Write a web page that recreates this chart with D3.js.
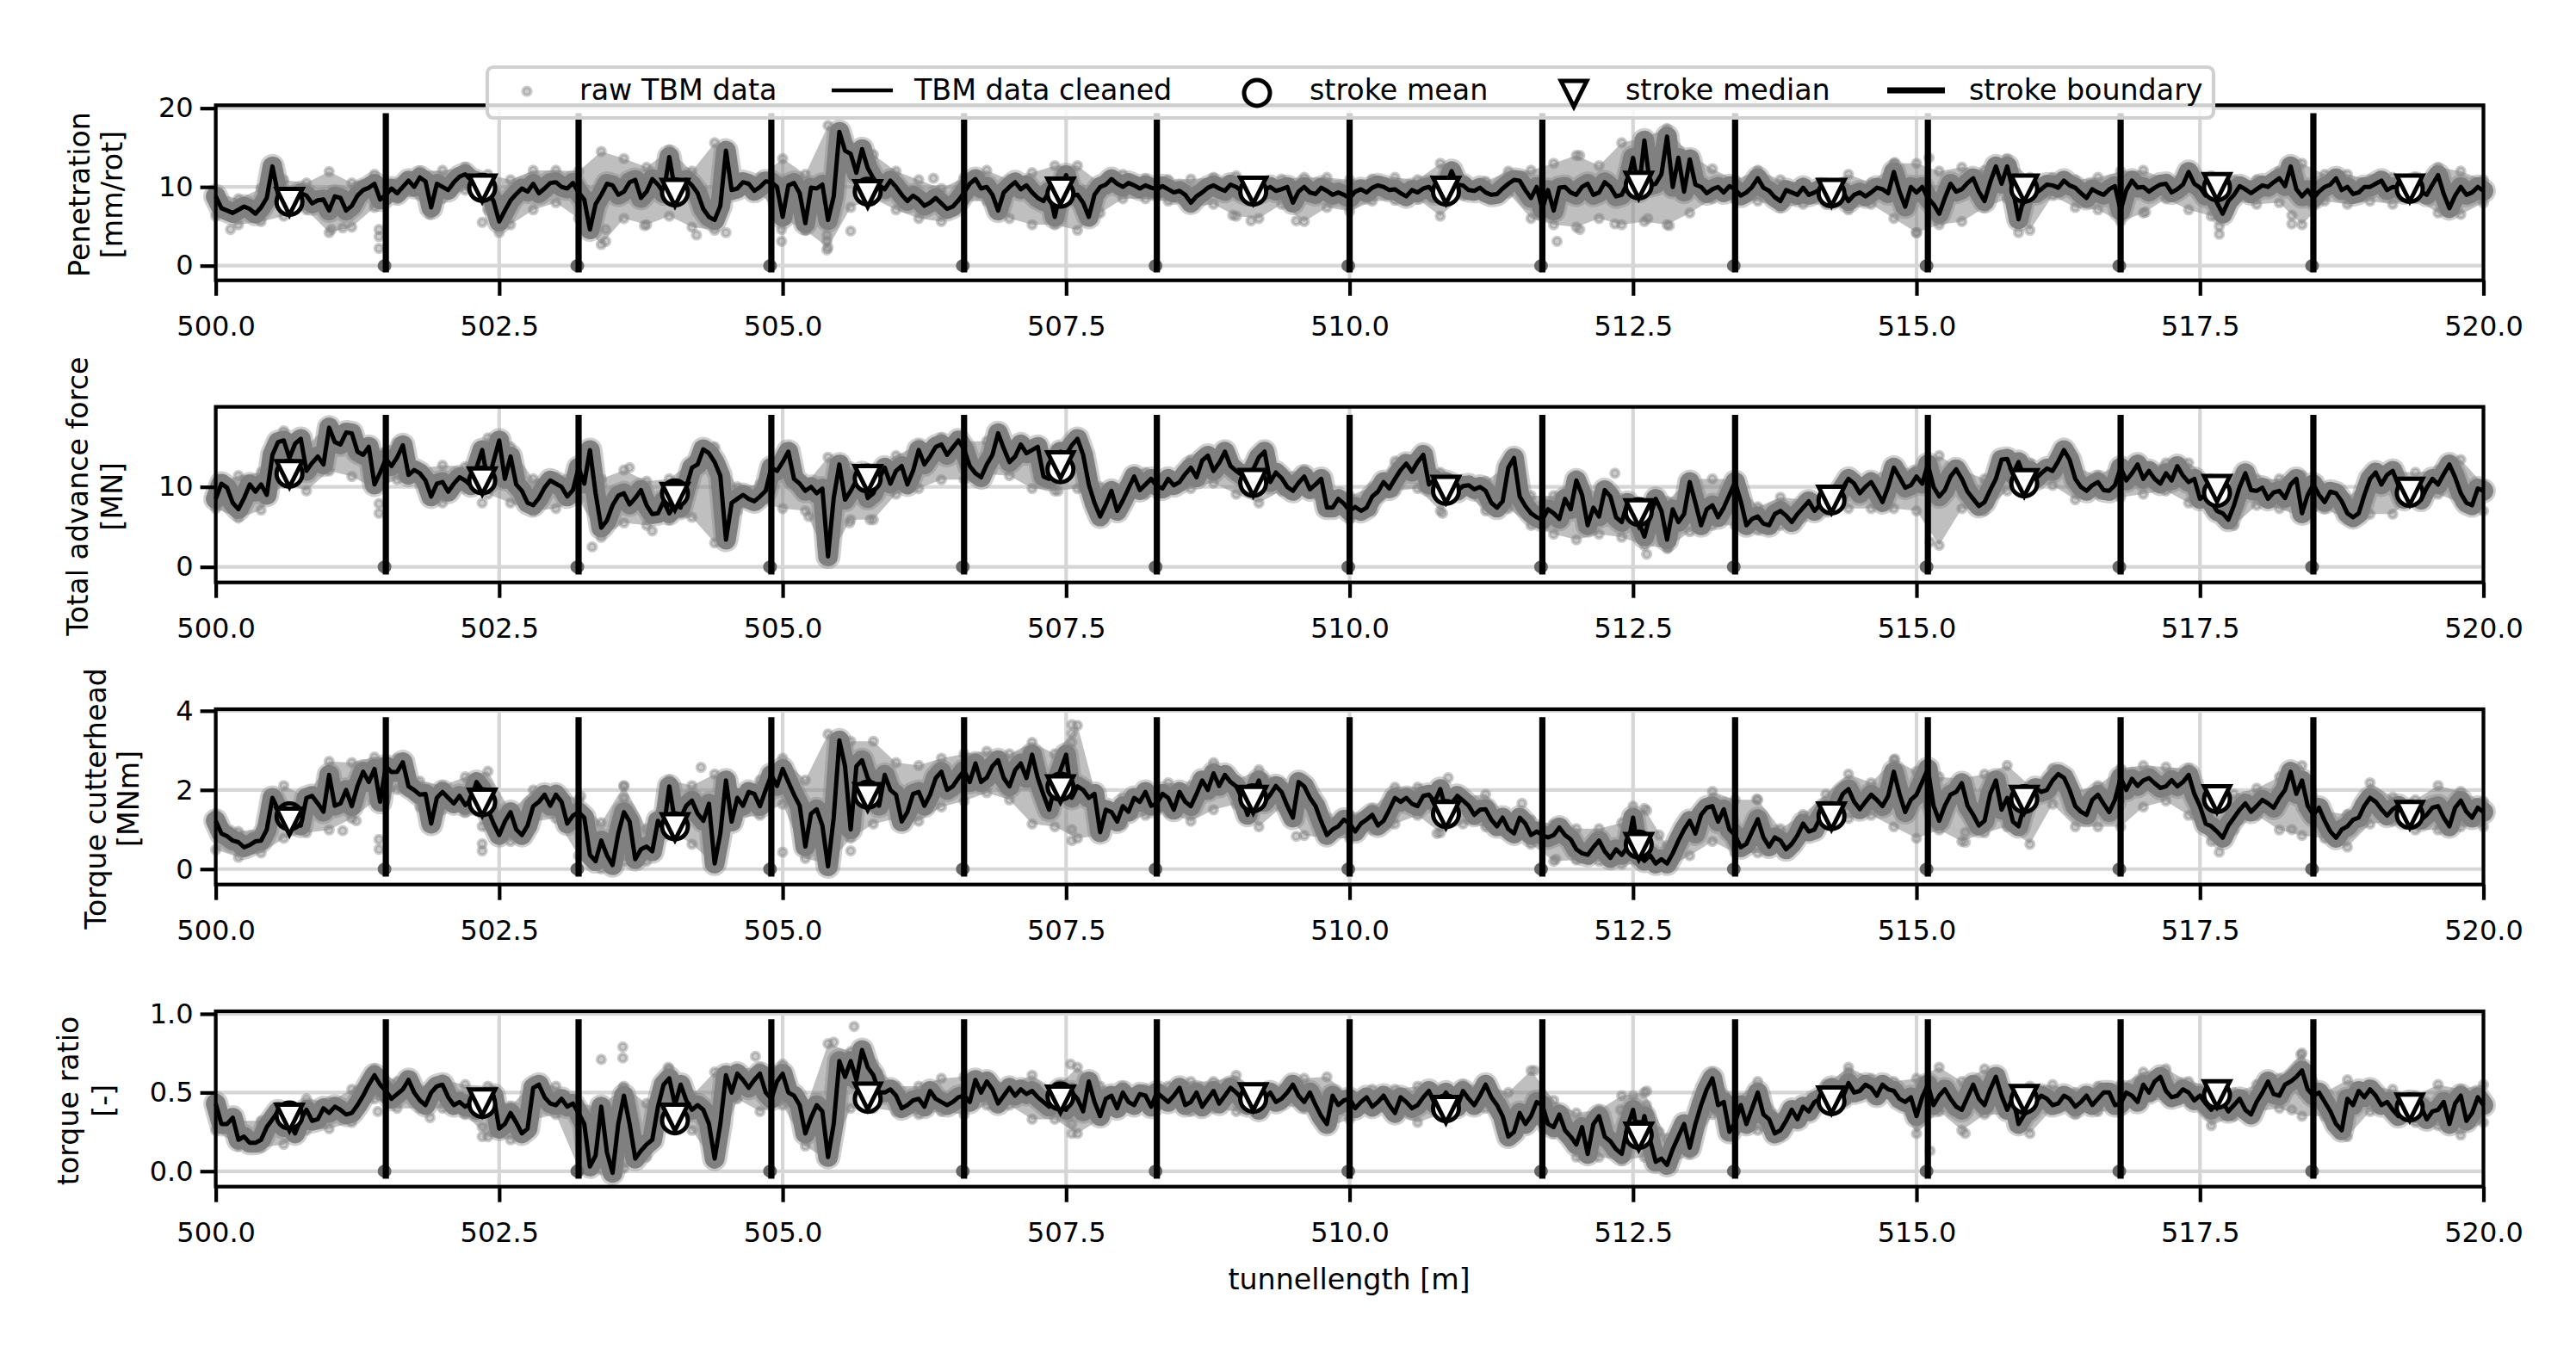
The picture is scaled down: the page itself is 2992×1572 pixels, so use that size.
<!DOCTYPE html>
<html><head><meta charset="utf-8">
<script src="https://cdn.jsdelivr.net/npm/d3@7"></script>
<style>html,body{margin:0;padding:0;background:#fff}svg{display:block}text{font-family:"DejaVu Sans";fill:#000}</style>
</head><body><svg id="c" width="2992" height="1572"></svg>
<script>
const xTicks=[500,502.5,505,507.5,510,512.5,515,517.5,520];
const strokeBoundaries=[501.5,503.2,504.9,506.6,508.3,510,511.7,513.4,515.1,516.8,518.5];
const strokeCentres=[500.65,502.35,504.05,505.75,507.45,509.15,510.85,512.55,514.25,515.95,517.65,519.35];
const legendLabels=["raw TBM data","TBM data cleaned","stroke mean","stroke median","stroke boundary"];

// cleaned series: readings every 0.1 m (…Clean) and the readings half-way between them (…Mid)
const penClean=[8.8,7.0,7.1,7.2,7.4,12.6,8.7,8.6,8.9,8.3,
7.0,8.6,7.6,9.6,10.4,9.0,9.2,10.8,11.2,7.4,
10.0,10.6,11.6,10.7,9.4,5.6,8.3,9.8,10.4,9.8,
10.6,9.8,9.3,4.6,9.0,10.2,9.4,10.9,9.4,10.3,
13.8,10.0,10.2,7.2,5.8,14.6,9.8,10.4,10.0,10.6,
6.2,10.5,5.4,9.8,5.8,17.0,14.2,14.8,11.1,9.7,
10.0,8.2,8.4,8.0,7.9,7.5,9.3,11.0,10.0,7.0,
10.0,9.7,9.3,8.2,6.2,11.5,9.0,6.2,10.0,11.0,
10.0,10.2,10.2,9.7,9.7,9.5,8.0,9.3,10.2,9.5,
10.0,9.1,9.3,10.0,9.7,8.0,10.0,9.1,9.5,9.3,
8.6,9.7,9.9,10.0,9.7,8.8,9.3,10.0,9.3,12.0,
10.2,9.5,9.3,9.1,10.4,10.8,8.6,7.2,7.0,10.0,
9.0,10.4,9.3,10.0,9.0,13.7,15.9,10.4,16.4,13.7,
13.5,10.0,9.7,9.3,9.7,9.3,11.1,9.5,8.2,9.3,
9.9,9.3,9.0,9.0,8.2,9.3,9.3,9.7,11.9,7.5,
9.3,8.6,6.6,10.4,9.7,11.1,8.2,12.6,12.6,5.9,
10.0,9.7,10.2,10.8,9.9,8.6,9.3,9.7,7.0,10.8,
10.0,9.9,10.4,9.7,11.9,9.9,9.3,6.6,9.0,9.7,
9.7,10.0,11.1,12.6,8.8,8.6,10.0,11.1,10.0,9.3,
10.0,10.8,10.0,9.3,10.4,9.0,11.5,7.3,10.0,9.3,9.5];
const penMid=[7.3,6.7,7.5,6.6,8.6,9.0,8.0,9.2,7.9,8.4,
8.8,7.0,8.9,9.9,8.4,9.8,10.0,10.0,10.7,10.4,
9.6,11.3,10.9,10.1,8.2,7.0,9.1,9.4,9.2,10.5,
10.0,10.5,8.4,7.8,10.4,9.0,10.6,8.6,11.0,9.2,
9.6,10.9,9.2,6.2,7.6,9.6,10.6,9.5,10.7,10.0,
10.2,9.2,9.9,10.3,8.8,14.6,11.8,12.4,10.2,10.8,
9.0,8.9,7.6,8.6,7.2,8.3,10.4,9.8,9.0,9.3,
10.6,10.2,8.6,9.4,9.5,8.9,8.0,9.0,10.3,10.4,
10.5,9.8,9.9,10.1,9.3,9.0,8.8,9.9,9.8,10.3,
9.4,9.8,9.6,9.5,10.0,9.4,9.3,9.9,9.0,9.0,
9.4,9.3,10.2,9.6,9.2,9.6,9.8,9.2,10.1,10.3,
9.6,9.9,9.0,9.8,10.9,9.6,10.0,9.6,9.9,9.3,
10.0,9.0,10.6,8.8,10.5,9.5,10.2,11.6,10.0,9.4,
10.3,9.2,10.0,10.1,8.9,10.0,9.9,8.7,9.6,9.0,
9.0,9.7,8.6,9.4,9.0,8.8,9.9,9.2,9.4,10.0,
10.0,7.8,8.6,9.4,10.5,9.4,10.6,10.4,9.6,8.8,
9.2,10.3,9.9,10.2,9.2,9.7,9.0,10.1,9.6,9.9,
9.4,10.3,9.3,10.3,10.4,8.9,8.0,8.2,10.1,9.2,
10.2,10.6,10.1,9.7,9.6,9.4,10.3,9.6,9.1,10.0,
10.4,9.6,9.9,10.1,9.4,10.3,9.1,8.9,9.0,10.0];
const penHigh=[9.2,8.5,9.8,10.9,10.5,11.95,10.5,11.6,10.5,12,12.1,12.5,11.6,10.9,12.1,12.1,12,14.5,13.6,12.5,14.7,12,15.6,11.2,11.2,13.6,11.6,17.8,15.2,
14.1,12,10.9,9.8,11.2,12.1,10.9,11.8,12.7,12.7,10.5,11.6,11,10.9,11,11.2,11.4,10.5,11,11.2,11.2,10.9,11,11.2,10.9,13,10.9,10.7,12,12.1,13,14,12.7,15.6,16.3,17.4,14.1,12.3,
10.9,12.1,10.9,10.5,10.5,11.6,10.5,13,13,12,12.5,12.1,13.6,11.2,11.2,10.9,11.2,12,12.1,11,12.1,11.4,10.9,10.9,12,13,11.6,11.6,10.9,11.2,11.2,12.5,12,10.9];
const penLow=[6.3,5.2,5.6,6.3,7.1,4.2,4.9,7.4,8.5,8.9,8.5,9.6,7.1,5.2,7.1,8,6,2.7,6,5.2,6.3,4.9,4.5,9.25,9.25,6,4.5,2.3,7.4,
8.5,7.1,6,5.6,8.2,8.2,6,5.2,5.2,4.5,6.7,8.5,8.5,8.2,7.4,7.8,6.3,6,7.8,5.6,7.4,6.9,8.2,8.3,8.5,6.3,8.9,9.1,9.25,6,5.2,4.9,6,5.2,5.6,5.2,6.7,8.5,
8.5,8.2,7.4,7.8,7.8,7.1,7.8,6,4.2,5.2,5.6,7.4,8.5,4.5,8.9,7.4,7.1,5.6,6.7,8.5,7.1,6.3,8.2,7.8,8,5.2,8.2,7.8,8.2,7.8,8.5,6.7,6.5,8];
const penOutX=[501.44,501.44,501.44,501.89,502.35,502.5,503.44,503.44,503.78,504.24,504.5,504.99,504.99,505.2,505.39,505.39,505.39,505.6,500.13,501.02,501.12,506.33,509.53,508.97,509.13,511.83,512.03,512.03,512.34,512.82,512.63,514.81,515.11,515,515.9,517.67,517.67,518.31,518.31,517.02];
const penOutY=[4.6,3.7,2.2,6.5,5.5,4.2,4.6,3.1,5.1,3.9,4.2,3.1,4.6,4.6,3.9,3.1,2,4.4,4.6,4.6,4.8,11.1,5.7,6.4,5.7,3.1,14,4.6,5.3,5.1,6,13.1,13.7,4.2,4.2,5,4,6.4,5.3,6.8];
const penMean=[8.1,9.87,9.3,9.4,9.14,9.4,9.4,10.2,9.2,9.76,9.95,9.76];
const penMedian=[8.1,9.8,9.25,9.1,9.43,9.54,9.54,10.16,9.25,9.8,9.98,9.8];

const forceClean=[8.5,9.9,7.2,10.3,10.3,14,15.8,15.4,12,13.8,
17.4,15.3,16.7,14,10.3,13.5,13.7,11.5,11.7,8.8,
10.6,10.4,10.8,12.4,10.6,15.8,13.8,9.5,7.7,9.9,
10.4,8.8,12.4,14.6,4.9,7.7,9.2,8.6,7.7,6.7,
6.7,7.4,12.4,14.7,13.1,3.4,8.5,8.5,8.8,12.4,
13.1,11,9.5,9.2,1.3,12.8,9.5,11.7,9.2,12.4,
12,10.3,14.6,13.8,15.3,14.9,14.7,11.7,12.8,16.7,
13.1,15.3,14.6,11.3,12.8,14,16,10.3,6.3,9.5,
8.3,11.3,10.3,10.1,11,10.6,12.4,13.3,12,14.4,
12,11,13.7,10.6,11.1,9.5,11.3,10.3,7.4,8.5,
7,7,8.8,10.6,11,12.9,13.1,10.3,9.9,10.3,
10.1,9.7,9.5,7.4,12.4,8.8,6.7,5.9,6.7,8.5,
10.8,5.2,6.3,8.8,5.6,6.7,3.8,8.5,3.4,5.6,
10.6,5.2,7.7,7.4,10.6,5.2,6.3,5.2,7,5.6,
7.4,7,7.7,8.8,11,9.2,10.6,8.1,12.4,9.9,
11.3,12.8,8.8,11.3,11,8.5,8.1,11,13.5,13.1,
12,11.7,12,14.6,11,9.5,10.6,9.5,12.4,11.7,
11,11,11.7,12.6,10.6,8.5,8.1,6.7,7.7,11.7,
9.5,8.5,9.5,10.3,6.7,10.3,8.1,9.2,6.7,6.7,
11,10.3,12,8.5,9.5,9.9,10.3,12.8,9.2,7.7,9.5];
const forceMid=[10.4,8.0,8.6,9.4,9.0,15.6,13.6,16,13.0,12.8,
15.6,16.8,14.4,15.0,11.8,12.6,15.2,12.1,10.8,10.4,
9.4,11.2,10.2,14.6,13.2,11.0,10.3,8.0,8.6,10.8,
10.0,9.6,10.4,9.2,5.8,8.9,7.8,9.6,6.6,8.2,
7.8,10.0,12.8,14.2,11.4,8.0,9.0,8.2,9.5,12.0,
14.4,10.4,10.0,9.8,8.6,8.4,10.8,8.6,11.0,10.4,
12.6,12.0,12.8,15.0,14.0,15.8,12.6,11.2,14.0,14.8,
13.8,14.2,15.0,11.0,14.4,15.2,14.0,8.0,7.8,7.0,
9.8,9.6,11.0,9.8,10.2,11.6,11.2,13.9,13.0,12.6,
11.5,12.2,14.4,11.8,10.0,10.5,9.7,11.0,7.4,7.9,
7.5,7.4,9.4,9.8,12.1,11.9,14.0,10.9,10.6,9.5,
10.2,10.0,8.0,8.2,13.6,7.6,6.2,7.2,6.0,7.2,
9.0,7.4,9.6,6.2,8.0,5.6,6.4,7.0,7.2,6.6,
8.0,7.2,6.2,9.0,8.2,6.0,5.4,6.6,6.4,6.6,
8.2,7.8,8.4,9.9,10.4,10.0,9.4,10.0,11.2,10.2,
10.4,10.0,9.6,12.2,9.4,7.6,9.6,13.4,11.6,11.2,
11.0,12.3,13.2,13.4,10.0,10.2,9.6,10.2,10.8,12.8,
12.0,10.4,10.8,11.4,11.0,9.0,7.0,5.9,10.0,9.6,
9.9,9.3,8.6,11.0,9.0,9.0,9.4,8.2,6.2,9.0,
11.8,11.5,10.2,9.8,8.4,11.0,11.6,11.2,8.0,9.8];
const forceHigh=[10.3,11.4,11.8,17,15,18,16.8,14.6,15.5,12.3,12.7,12.5,16.1,15,11,11.2,12.1,11,12.1,10.7,11,13.2,15,10,10.3,14.1,10.3,13.7,12.5,
12.3,13.9,15.3,16.1,15.7,15.7,15.3,15.3,14.6,16.1,10,10,11.8,11.2,13.4,13.5,12.1,14.3,11.8,12.1,10,8.9,10,13.2,13.9,11.8,10.7,10.7,12.8,8.9,8.9,11.4,8.9,8.5,7.8,8.2,11,
11,11,7.5,8.7,8.4,9.6,11.2,11.2,12.7,12.1,13.9,12.1,11,14.1,13,12.8,12.5,11.4,13,12.5,13,13,11,11,11,11,11.4,10,8.5,11.4,11.9,11.8,12.1,13.4,10.3];
const forceLow=[7.3,6.1,7.1,10.5,9.5,12,11.3,9.8,10.9,10.5,8,9.8,9.1,8,7,7.3,8.4,3.7,5.5,5.2,5.9,6.2,3,7,8,7.3,7,0.9,5.9,
5.9,9.1,9.8,10.9,10.9,11.6,11.4,9.8,9.5,9.8,5.9,7.7,9.1,9.5,9.8,10.5,9.1,8,9.5,9.5,7,5.9,7,9.5,9.8,7,9.5,7,7.3,5.2,4.1,3.4,4.1,3.7,2.7,2.3,4.4,
5.2,5.2,4.6,5.2,6.2,7,7.3,7.3,7.3,7,2.7,7.3,7,9.5,10.2,10.2,8.4,9.1,8.7,9.1,9.5,8,7,5.2,7.7,7.3,6.2,7.3,5.9,6.6,6.6,9.1,9.1,8,7];
const forceOutX=[501.44,501.44,502.35,503.32,503.85,503.65,505.42,505.23,505.59,512.34,512.62,512.81,510.82,505.77,507.43,515.12];
const forceOutY=[7.9,6.7,8,2.5,4.5,12.4,4.2,6.3,5.5,11.7,1.6,2.4,6.7,5.9,9.5,3.1];
const forceMean=[11.65,10.8,9.18,11.04,12.2,10.5,9.5,6.85,8.3,10.43,9.25,9.25];
const forceMedian=[11.6,10.7,8.75,11,12.7,10.5,9.64,6.7,8.4,10.47,9.75,9.4];

const torqueClean=[1.22,.83,.68,.61,.72,1.8,1.44,1.3,1.8,1.66,
2.38,1.66,1.59,2.46,2.53,2.6,2.46,2.09,1.88,1.15,
1.95,1.66,1.62,2.2,1.51,.86,1.44,.86,1.59,1.88,
1.88,1.15,1.44,.36,.72,.1,1.44,.25,.57,1.22,
2.09,1.3,1.73,1.22,.14,2.24,1.8,1.95,1.59,2.38,
2.53,1.88,.57,1.51,.07,3.25,1,2.75,2.09,2.38,
1.88,1.44,1.95,1.88,2.46,2.09,2.49,2.67,2.31,2.75,
2.09,2.67,2.89,1.88,2.09,2.89,2.09,1.8,.93,1.44,
1.59,1.8,1.95,1.66,1.8,1.95,1.59,2.24,2.42,2.38,
2.09,1.37,2.24,1.88,1.95,1.3,2.09,1.59,.86,1.08,
1.15,1.15,1.37,1.22,1.8,1.8,1.59,1.88,2.02,1.66,
1.73,1.37,1.51,1.08,1.01,1.3,.86,.86,.86,.86,
.5,.36,.72,.28,.36,1.3,.21,.14,.14,.72,
1.22,1.37,1.59,1.51,.86,.64,1.26,.57,.72,.64,
1.15,1,1.51,1.59,2.02,1.51,1.88,1.59,2.46,1.44,
1.88,2.53,1.22,1.88,2.17,1.37,1.22,2.24,1.8,1.08,
1.8,1.95,2.24,2.31,1.59,1.37,1.88,1.44,2.31,2.28,
2.24,2.17,2.09,2.09,2.38,1.59,1.08,.79,1.3,1.66,
1.59,1.66,1.8,2.46,2.24,1.37,1.22,.79,1.08,1.3,
1.8,1.51,1.51,1.3,1.44,1.37,1.59,1.08,1.73,1.3,1.44];
const torqueMid=[.9,.72,.55,.7,1.0,1.5,1.38,1.1,1.85,1.45,
1.6,2.0,2.1,2.2,1.7,2.45,2.7,2.0,1.9,1.8,
1.8,1.85,1.75,2.0,1.15,1.2,1.0,1.1,1.7,1.6,
1.7,1.35,1.3,.2,.35,.9,1.2,.5,.45,1.0,
1.2,1.6,1.4,1.65,.9,1.2,1.6,1.9,2.0,2.1,
2.2,1.6,1.4,1.1,1.3,2.6,2.6,2.3,1.6,2.0,
1.2,1.9,1.6,2.3,2.0,2.3,2.2,2.2,2.6,2.3,
2.5,2.3,2.3,1.5,2.5,1.8,2.0,1.9,1.5,1.2,
1.45,1.7,1.6,1.9,1.5,1.7,1.9,2.0,2.1,2.2,
1.8,1.9,1.7,2.1,1.6,2.2,1.8,1.2,1.0,1.25,
.95,1.25,1.1,1.5,1.7,1.65,1.85,1.7,1.5,1.85,
1.6,1.5,1.25,1.3,.9,1.15,.95,.8,1.05,.75,
.4,.55,.45,.5,.55,.35,.35,.25,.4,1.0,
.9,1.55,1.2,1.0,.55,.95,.8,.8,.5,.85,
.95,1.3,1.4,1.9,1.7,1.7,1.75,1.85,1.9,1.75,
2.2,1.6,1.6,1.95,1.6,1.1,1.9,1.5,1.2,1.6,
2.05,2.0,2.4,2.0,1.45,1.75,1.65,1.75,2.0,2.1,
2.3,2.05,2.25,2.2,1.9,1.15,.95,1.1,1.5,1.45,
1.75,1.55,2.0,1.9,1.6,1.55,.95,1.0,1.25,1.6,
1.7,1.35,1.6,1.5,1.25,1.55,1.3,1.55,1.45,1.55];
const torqueHigh=[1.38,.95,1.02,2.11,1.82,2.72,2.69,2.83,2.8,2.22,2.11,2.33,2.47,1.46,2,2,1.75,1.17,2.11,1.02,2.25,2.11,2.4,1.89,2.25,2.8,2.25,3.41,3.23,
3.23,2.69,2.62,2.8,2.91,2.98,2.91,3.2,2.91,3.63,1.46,1.82,2,2.18,2.11,2.69,2.25,2.51,2.18,2.25,1.31,1.38,1.53,2.07,2.07,2.07,1.82,1.89,1.31,1.24,1.13,1.02,1.02,1.17,1.53,.59,1.31,1.96,
1.75,1.75,1.02,1.38,1.89,2.4,2.18,2.76,2.47,2.33,2.29,2.4,2.62,2.11,2.54,1.96,2.11,2.54,2.62,2.58,2.54,1.82,1.89,2.04,2.33,2.62,1.46,1.38,2.18,1.82,1.75,2.11,1.96,1.71];
const torqueLow=[.49,.3,.41,.78,.92,.99,1.28,1.72,2.01,1.57,1.5,1.43,1.21,.7,1.21,1.28,.34,.01,.2,.2,.99,.63,.12,1.28,1.36,1.64,.27,.12,.78,
1.14,1.28,1.21,1.57,1.72,1.93,1.75,1.14,1.07,.78,.85,1.14,1.36,1.43,1.21,1.5,1.64,1.07,1.57,.85,.78,.78,.99,1.14,1.36,.92,1.14,1.07,.85,.63,.2,.23,.2,.12,.12,.05,.34,.7,
.41,.41,.56,.85,1.28,1.28,1.36,1.07,.78,.99,.7,.92,1.07,.63,1.64,1.07,1.07,1.07,1.57,1.72,1.36,.7,.99,1.36,.99,.85,.78,.56,1.14,1.21,.99,.99,1.07,1.07];
const torqueOutX=[501.44,501.44,502.35,502.35,502.35,504.28,503.6,503.6,503.22,501.24,501.12,505,505.2,505.6,507.55,507.55,507.55,507.55,507.55,509.53,510.87,510.77,512.5,512.62,511.82,512.73,511.52,514.81,515.43,515.43,517.67,518.31,513.59];
const torqueOutY=[.75,.5,1.08,.64,.46,2.57,2.09,1.8,1.84,1.22,.97,.43,.64,.46,3.65,3.43,3.2,1,.72,.83,2.31,.9,1.59,1.48,.25,.86,1.66,2.78,.68,.93,.43,1,1.77];
const torqueMean=[1.33,1.69,1.08,1.88,2.08,1.79,1.39,.62,1.34,1.77,1.77,1.37];
const torqueMedian=[1.2,1.68,1.06,1.82,2.02,1.75,1.37,.56,1.33,1.75,1.77,1.37];

const ratioClean=[.43,.3,.2,.18,.2,.33,.28,.24,.39,.33,
.37,.39,.37,.48,.61,.51,.49,.58,.45,.5,
.55,.42,.41,.39,.42,.27,.37,.24,.53,.47,
.42,.41,.37,.03,.41,-.01,.48,.08,.17,.41,
.59,.55,.39,.39,.08,.61,.62,.53,.62,.46,
.62,.48,.24,.42,.09,.7,.7,.77,.61,.5,
.48,.42,.46,.51,.44,.44,.48,.58,.57,.43,
.53,.52,.51,.44,.46,.39,.46,.57,.35,.48,
.5,.42,.48,.5,.44,.53,.44,.41,.51,.48,
.5,.42,.39,.5,.46,.55,.44,.42,.3,.42,
.46,.44,.41,.48,.37,.44,.42,.51,.44,.44,
.51,.42,.55,.42,.22,.37,.35,.42,.28,.26,
.17,.11,.35,.19,.11,.39,.35,.06,.04,.22,
.15,.42,.59,.44,.31,.3,.5,.33,.26,.39,
.41,.44,.48,.51,.56,.51,.53,.55,.51,.44,
.35,.55,.48,.46,.39,.55,.42,.6,.39,.3,
.39,.48,.42,.48,.41,.48,.46,.5,.43,.48,
.55,.57,.51,.48,.5,.48,.39,.44,.42,.39,
.44,.57,.48,.57,.64,.48,.44,.3,.46,.51,
.52,.42,.39,.39,.37,.33,.39,.3,.48,.37,.42];
const ratioMid=[.3,.34,.22,.18,.28,.38,.3,.33,.32,.4,
.41,.36,.42,.55,.55,.46,.52,.5,.42,.54,
.47,.44,.43,.44,.48,.3,.31,.27,.55,.43,
.46,.43,.3,.1,.12,.3,.3,.13,.2,.55,
.42,.45,.42,.3,.3,.5,.58,.58,.5,.57,
.5,.42,.34,.38,.3,.6,.58,.66,.5,.52,
.4,.45,.41,.46,.42,.47,.44,.5,.52,.48,
.48,.49,.47,.41,.52,.5,.38,.44,.46,.4,
.44,.49,.41,.47,.48,.42,.5,.46,.43,.53,
.46,.44,.46,.44,.5,.48,.5,.35,.48,.45,
.4,.47,.44,.42,.47,.4,.47,.43,.5,.41,
.46,.48,.47,.35,.25,.3,.44,.3,.36,.22,
.28,.3,.22,.14,.28,.2,.2,.08,.14,.3,
.3,.52,.42,.25,.42,.4,.36,.24,.32,.33,
.38,.46,.53,.47,.5,.55,.48,.52,.46,.47,
.47,.42,.52,.41,.47,.46,.52,.48,.47,.36,
.44,.46,.43,.46,.44,.42,.5,.42,.5,.44,
.5,.6,.47,.52,.45,.43,.46,.38,.46,.36,
.5,.49,.55,.6,.52,.5,.38,.26,.42,.47,
.48,.44,.35,.44,.41,.38,.44,.43,.32,.47];
const ratioHigh=[.46,.32,.32,.37,.46,.44,.52,.65,.57,.52,.58,.55,.54,.41,.57,.54,.43,.41,.54,.43,.65,.48,.63,.65,.66,.68,.39,.81,.76,
.68,.54,.54,.59,.6,.6,.55,.61,.52,.66,.54,.54,.52,.54,.57,.57,.61,.5,.52,.59,.6,.48,.52,.52,.54,.52,.55,.55,.5,.64,.45,.37,.39,.48,.5,.21,.32,.63,
.45,.57,.34,.43,.55,.66,.59,.57,.59,.66,.57,.65,.52,.54,.55,.5,.54,.55,.63,.65,.57,.54,.5,.55,.59,.75,.5,.58,.54,.52,.48,.55,.52,.55];
const ratioLow=[.26,.16,.15,.17,.26,.27,.31,.46,.4,.4,.4,.36,.22,.2,.33,.36,.02,.01,.02,.09,.35,.26,.05,.46,.38,.42,.16,.07,.4,
.4,.38,.36,.38,.36,.42,.42,.33,.33,.24,.33,.4,.42,.42,.38,.4,.38,.38,.42,.4,.28,.33,.38,.36,.31,.36,.42,.4,.2,.31,.24,.09,.09,.07,.09,.03,.11,.36,
.26,.26,.22,.36,.4,.46,.47,.47,.24,.38,.26,.36,.36,.24,.4,.36,.38,.38,.44,.46,.44,.29,.35,.38,.4,.35,.35,.22,.38,.36,.31,.29,.23,.31];
const ratioOutX=[503.4,503.59,503.59,503.59,504.76,503.99,505.63,505.45,502.35,502.35,501.89,501.43,503.32,507.55,507.55,511.63,512.5,512.62,512.62,512.39,512.73,507.54,518.39,514.4,518.31,515.43,515.12];
const ratioOutY=[.71,.79,.72,.53,.73,.66,.92,.82,.22,.28,.34,.38,.37,.24,.3,.64,.48,.51,.42,.39,.25,.68,.74,.63,.39,.24,.13];
const ratioMean=[.354,.427,.323,.46,.474,.46,.4,.23,.445,.454,.485,.405];
const ratioMedian=[.34,.438,.34,.474,.456,.47,.39,.22,.45,.46,.49,.405];

const panels=[
 {top:122.3,bottom:325.7,dom:[-1.86,20.37],ticks:[0,10,20],fmt:d3.format("d"),clean:penClean,mid:penMid,high:penHigh,low:penLow,ox:penOutX,oy:penOutY,mean:penMean,median:penMedian,label:["Penetration","[mm/rot]"],lx:[104,142]},
 {top:472.7,bottom:676.7,dom:[-1.94,20],ticks:[0,10],fmt:d3.format("d"),clean:forceClean,mid:forceMid,high:forceHigh,low:forceLow,ox:forceOutX,oy:forceOutY,mean:forceMean,median:forceMedian,label:["Total advance force","[MN]"],lx:[102,142]},
 {top:824,bottom:1027.7,dom:[-0.39,4.04],ticks:[0,2,4],fmt:d3.format("d"),clean:torqueClean,mid:torqueMid,high:torqueHigh,low:torqueLow,ox:torqueOutX,oy:torqueOutY,mean:torqueMean,median:torqueMedian,label:["Torque cutterhead","[MNm]"],lx:[123,161]},
 {top:1175,bottom:1378.7,dom:[-0.098,1.016],ticks:[0,0.5,1],fmt:d3.format(".1f"),clean:ratioClean,mid:ratioMid,high:ratioHigh,low:ratioLow,ox:ratioOutX,oy:ratioOutY,mean:ratioMean,median:ratioMedian,label:["torque ratio","[-]"],lx:[91,132]}
];

const svg=d3.select("#c");
const x=d3.scaleLinear().domain([500,520]).range([250.6,2884.5]);
const FS=33.3, TFS=32, LW=4.2, GRID="#d6d6d6", GRAY="#808080";
const triPath="M-15,-15L15,-15L0,15Z";

panels.forEach(p=>{
  const y=d3.scaleLinear().domain(p.dom).range([p.bottom,p.top]);
  const g=svg.append("g");
  g.selectAll(".gx").data(xTicks).join("line").attr("x1",d=>x(d)).attr("x2",d=>x(d)).attr("y1",p.top).attr("y2",p.bottom).attr("stroke",GRID).attr("stroke-width",LW);
  g.selectAll(".gy").data(p.ticks).join("line").attr("x1",x(500)).attr("x2",x(520)).attr("y1",d=>y(d)).attr("y2",d=>y(d)).attr("stroke",GRID).attr("stroke-width",LW);

  const series=d3.merge(p.clean.map((v,i)=>i<p.mid.length?[v,p.mid[i]]:[v]));
  const ln=d3.line().x((d,i)=>x(500+i*0.05)).y(d=>y(d));

  // raw TBM data: a lighter scatter envelope, the dense ribbon hugging the line, single outliers
  const idx=d3.range(Math.min(p.high.length,p.low.length));
  const area=d3.area().x(i=>x(500+i*0.2)).y0(i=>y(p.low[i])).y1(i=>y(p.high[i]));
  g.append("path").datum(idx).attr("d",area).attr("fill",GRAY).attr("fill-opacity",.5);
  const envDots=idx.flatMap(i=>[[500+i*0.2,p.high[i]],[500+i*0.2,p.low[i]]]);
  g.append("g").attr("fill",GRAY).attr("fill-opacity",.42).attr("stroke",GRAY).attr("stroke-opacity",.42).attr("stroke-width",4)
    .selectAll("circle").data(envDots).join("circle").attr("cx",d=>x(d[0])).attr("cy",d=>y(d[1])).attr("r",4.6);
  g.append("path").datum(series).attr("d",ln).attr("fill","none").attr("stroke",GRAY).attr("stroke-opacity",.38).attr("stroke-width",29).attr("stroke-linejoin","round").attr("stroke-linecap","round");
  g.append("path").datum(series).attr("d",ln).attr("fill","none").attr("stroke",GRAY).attr("stroke-width",23).attr("stroke-linejoin","round").attr("stroke-linecap","round");
  const outl=p.ox.map((v,i)=>[v,p.oy[i]]);
  g.append("g").attr("fill",GRAY).attr("fill-opacity",.4).attr("stroke",GRAY).attr("stroke-opacity",.4).attr("stroke-width",4)
    .selectAll("circle").data(outl).join("circle").attr("cx",d=>x(d[0])).attr("cy",d=>y(d[1])).attr("r",4.6);
  g.append("g").selectAll("ellipse").data(strokeBoundaries).join("ellipse").attr("cx",d=>x(d)-1.5).attr("cy",y(0)).attr("rx",8).attr("ry",7.5).attr("fill","#666");
  g.append("path").datum(series).attr("d",ln).attr("fill","none").attr("stroke","#000").attr("stroke-width",5).attr("stroke-linejoin","round");
  const yr=d3.scaleLinear().domain([0,1]).range([p.bottom,p.top]);
  g.selectAll(".b").data(strokeBoundaries).join("line").attr("x1",d=>x(d)).attr("x2",d=>x(d)).attr("y1",yr(.045)).attr("y2",yr(.955)).attr("stroke","#000").attr("stroke-width",7.2);
  g.selectAll(".m").data(p.mean).join("circle").attr("cx",(d,i)=>x(strokeCentres[i])).attr("cy",d=>y(d)).attr("r",15).attr("fill","#fff").attr("stroke","#000").attr("stroke-width",5);
  g.selectAll(".t").data(p.median).join("path").attr("transform",(d,i)=>`translate(${x(strokeCentres[i])},${y(d)})`).attr("d",triPath).attr("fill","#fff").attr("stroke","#000").attr("stroke-width",5);
  const ax=d3.axisBottom(x).tickValues(xTicks).tickFormat(d3.format(".1f")).tickSize(18).tickPadding(8);
  const ay=d3.axisLeft(y).tickValues(p.ticks).tickFormat(p.fmt).tickSize(18).tickPadding(8);
  const gx=svg.append("g").attr("transform",`translate(0,${p.bottom})`).call(ax);
  const gy=svg.append("g").attr("transform",`translate(${x(500)},0)`).call(ay);
  [gx,gy].forEach(a=>{a.select(".domain").remove();a.selectAll("line").attr("stroke","#000").attr("stroke-width",LW);a.selectAll("text").attr("font-size",TFS).attr("font-family","DejaVu Sans").attr("fill","#000");});
  gx.selectAll("text").attr("y",64).attr("dy",0);
  svg.append("rect").attr("x",x(500)).attr("y",p.top).attr("width",x(520)-x(500)).attr("height",p.bottom-p.top).attr("fill","none").attr("stroke","#000").attr("stroke-width",LW);
  const cy=(p.top+p.bottom)/2+2;
  p.label.forEach((t,i)=>{svg.append("text").attr("transform",`translate(${p.lx[i]},${cy}) rotate(-90)`).attr("text-anchor","middle").attr("font-size",FS).text(t);});
});
svg.append("text").attr("x",1567).attr("y",1498).attr("text-anchor","middle").attr("font-size",FS).text("tunnellength [m]");

// legend
const L=svg.append("g");
L.append("rect").attr("x",566).attr("y",78).attr("width",2005).attr("height",59).attr("rx",7).attr("fill","#fff").attr("fill-opacity",.8).attr("stroke","#d0d0d0").attr("stroke-width",4.2);
const legendTextX=[673,1062,1521,1888,2287];
L.selectAll("text").data(legendLabels).join("text").attr("x",(d,i)=>legendTextX[i]).attr("y",116).attr("font-size",FS).text(d=>d);
L.append("circle").attr("cx",612).attr("cy",106).attr("r",4.6).attr("fill",GRAY).attr("fill-opacity",.4).attr("stroke",GRAY).attr("stroke-opacity",.4).attr("stroke-width",4);
L.append("line").attr("x1",966).attr("x2",1037).attr("y1",105).attr("y2",105).attr("stroke","#000").attr("stroke-width",4.4);
L.append("circle").attr("cx",1460).attr("cy",108).attr("r",15).attr("fill","#fff").attr("stroke","#000").attr("stroke-width",5);
L.append("path").attr("transform","translate(1828,109)").attr("d",triPath).attr("fill","#fff").attr("stroke","#000").attr("stroke-width",5);
L.append("line").attr("x1",2192).attr("x2",2259).attr("y1",105).attr("y2",105).attr("stroke","#000").attr("stroke-width",7.2);
</script></body></html>
